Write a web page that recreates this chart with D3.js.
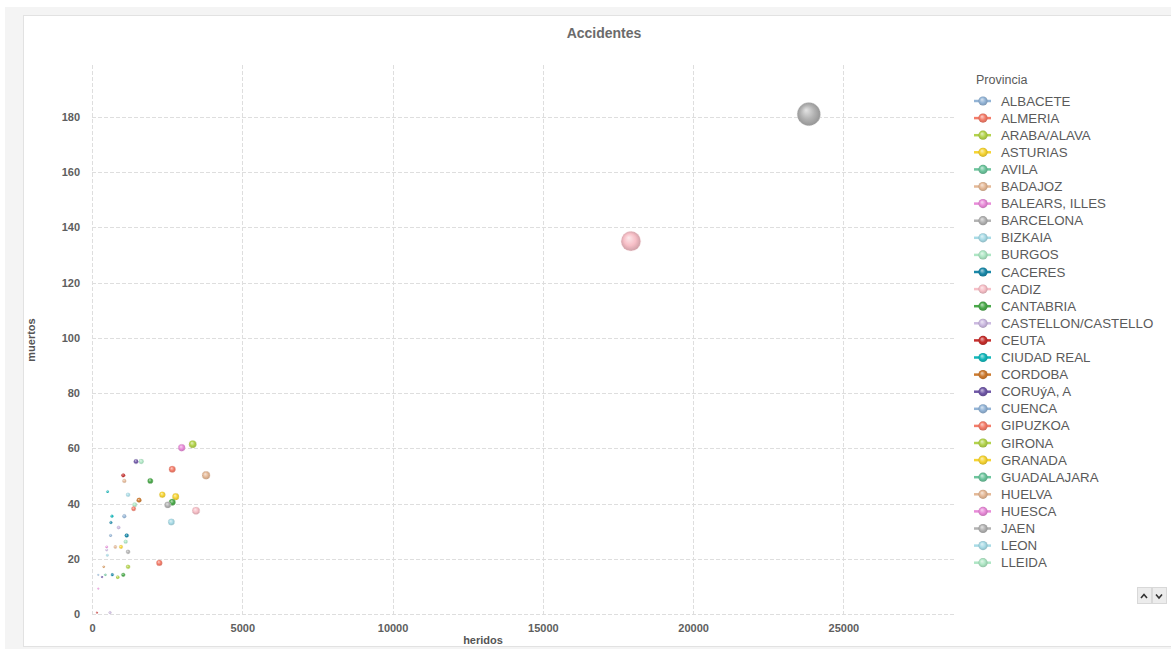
<!DOCTYPE html>
<html>
<head>
<meta charset="utf-8">
<script src="https://cdn.jsdelivr.net/npm/d3@7"></script>
<style>
  body { margin: 0; background: #fff; }
  svg { display: block; font-family: "Liberation Sans", Arial, sans-serif; }
</style>
</head>
<body>
<svg id="chart" width="1171" height="649"></svg>
<script>
// Provinces in legend order (colour is assigned by position in this list)
const provincias = [
  "ALBACETE", "ALMERIA", "ARABA/ALAVA", "ASTURIAS", "AVILA", "BADAJOZ",
  "BALEARS, ILLES", "BARCELONA", "BIZKAIA", "BURGOS", "CACERES", "CADIZ",
  "CANTABRIA", "CASTELLON/CASTELLO", "CEUTA", "CIUDAD REAL", "CORDOBA",
  "CORUýA, A", "CUENCA", "GIPUZKOA", "GIRONA", "GRANADA", "GUADALAJARA",
  "HUELVA", "HUESCA", "JAEN", "LEON", "LLEIDA", "LUGO", "MADRID", "MALAGA",
  "MELILLA", "MURCIA", "NAVARRA", "OURENSE", "PALENCIA", "PALMAS, LAS",
  "PONTEVEDRA", "RIOJA, LA", "SALAMANCA", "SANTA CRUZ DE TENERIFE", "SEGOVIA",
  "SEVILLA", "SORIA", "TARRAGONA", "TERUEL", "TOLEDO", "VALENCIA/VALENCIA",
  "VALLADOLID", "ZAMORA", "ZARAGOZA"
];

const palette = [
  "#93b4d6", "#f47c69", "#b3d34c", "#f6d433", "#6dc59d", "#e4b896",
  "#e88bd8", "#b2b2b2", "#a8dbe6", "#aee6c4", "#1a88a8", "#f7bfc7",
  "#4aa94a", "#cbb9e0", "#c62f2d", "#12b7ba", "#cc7a2f", "#6f57a6"
];

// Series: province, injured (heridos), deaths (muertos)
const serieProvincia = [
  "BARCELONA", "MADRID", "GIRONA", "SEVILLA", "PALENCIA", "LLEIDA", "PONTEVEDRA",
  "MURCIA", "SEGOVIA", "BADAJOZ", "VALLADOLID", "CIUDAD REAL", "BIZKAIA",
  "GRANADA", "ASTURIAS", "CORDOBA", "BURGOS", "ALMERIA", "JAEN", "MALAGA",
  "CADIZ", "TARRAGONA", "NAVARRA", "ALBACETE", "LUGO", "CASTELLON/CASTELLO",
  "CUENCA", "TOLEDO", "TERUEL", "HUESCA", "ZAMORA", "HUELVA", "SALAMANCA",
  "SORIA", "LEON", "RIOJA, LA", "GIPUZKOA", "OURENSE", "PALMAS, LAS",
  "CORUýA, A", "AVILA", "CACERES", "ARABA/ALAVA", "CANTABRIA", "BALEARS, ILLES",
  "CEUTA", "MELILLA"
];
const serieHeridos = [
  23850, 17930, 3350, 2985, 1465, 1640, 2670,
  1040, 3795, 1075, 1940, 520, 1200,
  2340, 2785, 1565, 1420, 1385, 2520, 2670,
  3460, 2640, 665, 1075, 630, 885,
  620, 1155, 1120, 490, 490, 775, 965,
  1200, 510, 1200, 2240, 390, 210,
  335, 445, 675, 855, 1040, 210,
  165, 600
];
const serieMuertos = [
  181, 135, 61.5, 60.2, 55.2, 55.2, 52.4,
  50.2, 50.2, 48.2, 48.2, 44.3, 43.2,
  43.2, 42.5, 41.2, 39.6, 38.1, 39.5, 40.5,
  37.4, 33.3, 35.4, 35.4, 33.1, 31.3,
  28.4, 28.4, 26.2, 24.3, 23.2, 24.3, 24.3,
  22.5, 21.3, 17.1, 18.5, 17.1, 14.2,
  13.4, 14.2, 14.2, 13.3, 14.2, 9.2,
  0.5, 0.5
];

const xTicks = [0, 5000, 10000, 15000, 20000, 25000];
const yTicks = [0, 20, 40, 60, 80, 100, 120, 140, 160, 180];

const puntos = serieProvincia.map((p, i) => ({
  provincia: p, heridos: serieHeridos[i], muertos: serieMuertos[i]
}));

const svg = d3.select("#chart");

// Page frame: light grey surround with a white panel
svg.append("rect").attr("x", 5).attr("y", 7).attr("width", 1166).attr("height", 642).attr("fill", "#f4f4f4");
svg.append("rect").attr("x", 23.5).attr("y", 15.5).attr("width", 1160).attr("height", 631)
  .attr("fill", "#fff").attr("stroke", "#e2e2e2");

const plot = { left: 92, right: 954, top: 65, bottom: 614 };

const x = d3.scaleLinear().domain([0, 28680]).range([plot.left, plot.right]);
const y = d3.scaleLinear().domain([0, 198.8]).range([plot.bottom, plot.top]);
const r = d3.scalePow().exponent(0.58).domain([0, 23850]).range([0, 11.6]);
const color = d3.scaleOrdinal().domain(provincias).range(palette);

// Sphere-like gradients, one per palette colour
const defs = svg.append("defs");
palette.forEach((c, i) => {
  const g = defs.append("radialGradient").attr("id", "g" + i)
    .attr("cx", "50%").attr("cy", "50%").attr("r", "55%")
    .attr("fx", "38%").attr("fy", "32%");
  g.append("stop").attr("offset", "0%").attr("stop-color", d3.interpolateRgb(c, "#fff")(0.65));
  g.append("stop").attr("offset", "55%").attr("stop-color", c);
  g.append("stop").attr("offset", "100%").attr("stop-color", d3.color(c).darker(0.6));
});
const fillOf = p => "url(#g" + (provincias.indexOf(p) % palette.length) + ")";

// Title
svg.append("text").attr("x", 604).attr("y", 38).attr("text-anchor", "middle")
  .attr("font-size", 14).attr("font-weight", "bold").attr("fill", "#6b6b6b").text("Accidentes");

// Grid lines
const grid = svg.append("g").attr("stroke", "#dedede").attr("stroke-dasharray", "4,2").attr("stroke-width", 1);
grid.selectAll(".v").data(xTicks).join("line")
  .attr("x1", d => Math.round(x(d)) + 0.5).attr("x2", d => Math.round(x(d)) + 0.5)
  .attr("y1", plot.top).attr("y2", plot.bottom);
grid.selectAll(".h").data(yTicks).join("line")
  .attr("y1", d => Math.round(y(d)) + 0.5).attr("y2", d => Math.round(y(d)) + 0.5)
  .attr("x1", plot.left).attr("x2", plot.right);

// Axes
const xAxis = svg.append("g").attr("transform", `translate(0,${plot.bottom + 4})`)
  .call(d3.axisBottom(x).tickValues(xTicks).tickSize(0).tickPadding(6).tickFormat(d3.format("d")));
const yAxis = svg.append("g").attr("transform", `translate(${plot.left - 12},0)`)
  .call(d3.axisLeft(y).tickValues(yTicks).tickSize(0).tickPadding(0).tickFormat(d3.format("d")));
[xAxis, yAxis].forEach(a => {
  a.select(".domain").remove();
  a.selectAll("text").attr("font-family", "Liberation Sans, Arial, sans-serif")
    .attr("font-size", 11).attr("font-weight", "bold").attr("fill", "#5e5e5e");
});

svg.append("text").attr("x", 483).attr("y", 644).attr("text-anchor", "middle")
  .attr("font-size", 11).attr("font-weight", "bold").attr("fill", "#555").text("heridos");
svg.append("text").attr("transform", "translate(35,340) rotate(-90)").attr("text-anchor", "middle")
  .attr("font-size", 11).attr("font-weight", "bold").attr("fill", "#555").text("muertos");

// Bubbles (largest first so small ones stay visible)
svg.append("g").selectAll("circle")
  .data(puntos.slice().sort((a, b) => b.heridos - a.heridos))
  .join("circle")
  .attr("cx", d => x(d.heridos))
  .attr("cy", d => y(d.muertos))
  .attr("r", d => Math.max(0.9, r(d.heridos)))
  .attr("fill", d => fillOf(d.provincia))
  .attr("stroke", d => d3.interpolateRgb(color(d.provincia), "#fff")(0.5))
  .attr("stroke-width", 0.6)
  .attr("stroke-dasharray", "1.5,1");

// Legend (first page of entries)
const legend = svg.append("g");
legend.append("text").attr("x", 976).attr("y", 84).attr("font-size", 12.5).attr("fill", "#5a5a5a").text("Provincia");
const visibles = provincias.slice(0, 28);
const item = legend.selectAll(".item").data(visibles).join("g")
  .attr("transform", (d, i) => `translate(0,${101 + i * 17.1})`);
item.append("line").attr("x1", 974).attr("x2", 991).attr("y1", 0).attr("y2", 0)
  .attr("stroke", d => color(d)).attr("stroke-width", 2.5);
item.append("circle").attr("cx", 983).attr("cy", 0).attr("r", 4.6).attr("fill", d => fillOf(d));
item.append("text").attr("x", 1001).attr("y", 4.5).attr("font-size", 13.3).attr("fill", "#5a5a5a").text(d => d);

// Legend paging buttons
const btn = svg.append("g");
[[1137, "M1141,598 L1144,594.5 L1147,598"], [1152, "M1156,594.5 L1159,598 L1162,594.5"]].forEach(([bx, p]) => {
  btn.append("rect").attr("x", bx + 0.5).attr("y", 587.5).attr("width", 14).attr("height", 16)
    .attr("fill", "#ececec").attr("stroke", "#d8d8d8");
  btn.append("path").attr("d", p).attr("fill", "none").attr("stroke", "#333").attr("stroke-width", 1.6);
});
</script>
</body>
</html>
